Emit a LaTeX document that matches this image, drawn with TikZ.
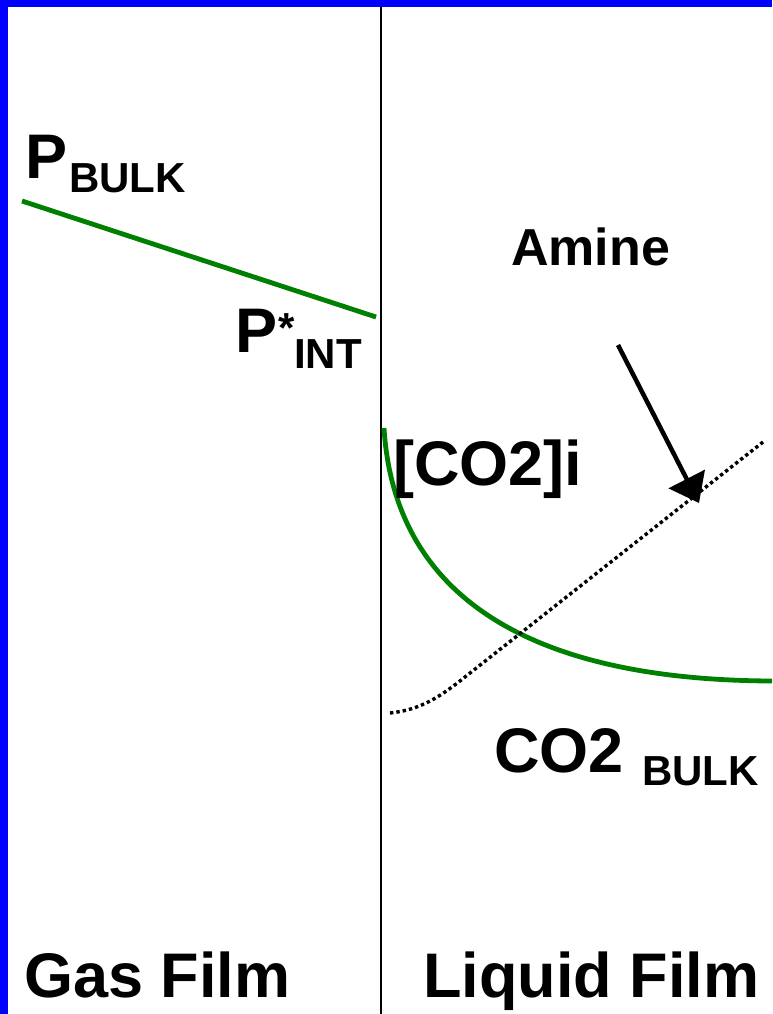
\documentclass[tikz,border=0pt]{standalone}
\usepackage{fontspec}
\setmainfont{Liberation Sans}
\usetikzlibrary{arrows.meta}
\definecolor{frameblue}{RGB}{0,0,255}
\definecolor{curvegreen}{RGB}{0,128,0}
\tikzset{
  lbl/.style={anchor=base west, inner sep=0pt, font=\bfseries},
  big/.style={lbl, font=\fontsize{63}{63}\selectfont\bfseries},
  mid/.style={lbl, font=\fontsize{52}{52}\selectfont\bfseries},
  sub/.style={lbl, font=\fontsize{42}{42}\selectfont\bfseries},
  greenline/.style={draw=curvegreen, line width=4.8pt},
  dotline/.style={draw=black, line width=3.4pt, dash pattern=on 3.4pt off 3pt},
}
\begin{document}
\begin{tikzpicture}[x=1pt,y=-1pt]
\useasboundingbox (0,0) rectangle (772,1014);
\fill[white] (0,0) rectangle (772,1014);
% frame
\fill[frameblue] (0,0) rectangle (772,7);
\fill[frameblue] (0,0) rectangle (8,1014);
% interface
\draw[line width=2pt] (381,7) -- (381,1014);
% gas side line
\draw[greenline] (22,201) -- (376,317);
% liquid side CO2 curve
\draw[greenline] (384,428) .. controls (394,590) and (520,680) .. (772,681);
% amine dotted profile
\draw[dotline] (390,713) .. controls (420,710) and (440,697) .. (465,677) -- (763,442);
% arrow
\coordinate (arrS) at (618,345);
\coordinate (arrE) at (699,503);
\draw[line width=4.5pt, -{Triangle[length=27pt,width=40pt]}] (arrS) -- (arrE);
% labels
\node[big] (pbulk) at (25,178) {P};
\node[sub] (pbulksub) at (69,192) {BULK};
\node[big] (pint) at (235,352) {P};
\node[sub] (pstar) at (278,342) {*};
\node[sub] (pintsub) at (294,368) {INT};
\node[mid] (amine) at (511,265) {Amine};
\node[big] (co2i) at (393,485) {[CO2]i};
\node[big] (co2b) at (494,772) {CO2};
\node[sub] (co2bsub) at (642,785) {BULK};
\node[big] (gas) at (24,997) {Gas Film};
\node[big] (liq) at (423,997) {Liquid Film};
\end{tikzpicture}
\end{document}
